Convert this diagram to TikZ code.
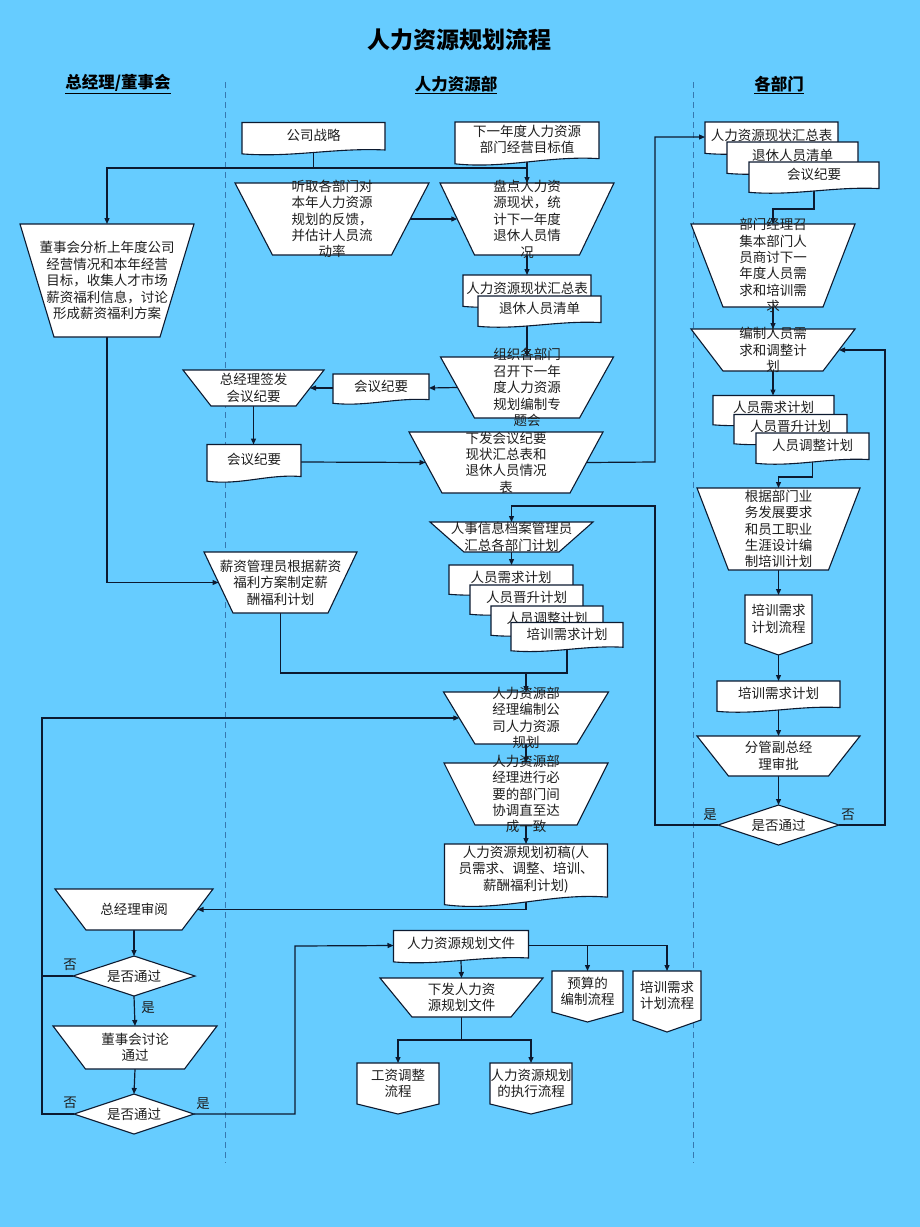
\documentclass[tikz,border=0pt]{standalone}
\usepackage{fontspec}
\setmainfont{Noto Sans CJK SC}
\usetikzlibrary{arrows.meta,calc}
\pgfdeclarelayer{back}\pgfdeclarelayer{bg}\pgfsetlayers{back,bg,main}
\definecolor{bgc}{RGB}{102,204,255}
\definecolor{lnc}{RGB}{12,26,48}
\definecolor{lanec}{RGB}{55,120,175}
\definecolor{txc}{RGB}{30,30,30}
\tikzset{
 bx/.style={draw=none,inner sep=0pt,outer sep=0pt,rectangle},
 shp/.style={draw=lnc,fill=white,line width=1.1pt,line join=miter},
 txt/.style={inner sep=0pt,align=center,font=\fontsize{13.5}{16.4}\selectfont,text=txc},
 arr/.style={draw=lnc,line width=1.2pt,-{Triangle[length=6pt,width=5pt]}},
 ln/.style={draw=lnc,line width=1.2pt},
 lane/.style={draw=lanec,dash pattern=on 6pt off 4pt,line width=1pt},
 hdr/.style={inner sep=0pt,font=\fontsize{16.5}{18}\selectfont\bfseries,text=black},
}
\newcommand\mkTrap[7]{%
  \node[bx,minimum width=#4,minimum height=#6] (#1) at (#2,#3) {};
  \filldraw[shp] (#1.north west) -- (#1.north east) -- ([xshift={-(#4-#5)/2}]#1.south east) -- ([xshift={(#4-#5)/2}]#1.south west) -- cycle;
  \coordinate (#1-l) at ([xshift={(#4-#5)/4}]#1.west);
  \coordinate (#1-r) at ([xshift={-(#4-#5)/4}]#1.east);
  \node[txt] (#1-t) at (#1.center) {#7};}
\newcommand\mkDoc[6]{%
  \node[bx,minimum width=#4,minimum height=#5] (#1) at (#2,#3) {};
  \filldraw[shp] (#1.north west) -- (#1.north east) -- ([yshift={0.084*#5}]#1.south east) .. controls ([xshift={-0.35*#4},yshift={0.164*#5}]#1.south east) and ([xshift={0.35*#4},yshift={-0.176*#5}]#1.south west) .. ([yshift={-0.046*#5}]#1.south west) -- cycle;
  \node[txt] (#1-t) at ([yshift={0.06*#5}]#1.center) {#6};}
\newcommand\mkOff[7]{%
  \node[bx,minimum width=#4,minimum height=#5] (#1) at (#2,#3) {};
  \filldraw[shp] (#1.north west) -- (#1.north east) -- ([yshift=#6]#1.south east) -- (#1.south) -- ([yshift=#6]#1.south west) -- cycle;
  \node[txt] (#1-t) at ([yshift={#6/2}]#1.center) {#7};}
\newcommand\mkDia[6]{%
  \node[bx,minimum width=#4,minimum height=#5] (#1) at (#2,#3) {};
  \filldraw[shp] (#1.north) -- (#1.east) -- (#1.south) -- (#1.west) -- cycle;
  \node[txt] (#1-t) at (#1.center) {#6};}
\begin{document}
\begin{tikzpicture}[x=1pt,y=-1pt]
\useasboundingbox (0,0) rectangle (920,1227);
\begin{pgfonlayer}{back}
\fill[bgc] (0,0) rectangle (920,1227);
\draw[lane] (225,82) -- (225,1163);
\draw[lane] (693,82) -- (693,1163);
\end{pgfonlayer}

% titles
\node[inner sep=0pt,font=\fontsize{23}{25}\selectfont\bfseries,text=black] (title) at (459,40) {人力资源规划流程};
\node[hdr] (h1) at (118,84) {\underline{总经理/董事会}};
\node[hdr] (h2) at (456,85) {\underline{人力资源部}};
\node[hdr] (h3) at (779,85) {\underline{各部门}};

% left/center lane top
\mkDoc{gszl}{313.5}{137.5}{143}{30}{公司战略}
\mkDoc{mb}{527}{142}{144}{40}{下一年度人力资源\\部门经营目标值}
\mkTrap{dsh}{107}{280.5}{174}{106}{113}{董事会分析上年度公司\\经营情况和本年经营\\目标，收集人才市场\\薪资福利信息，讨论\\形成薪资福利方案}
\mkTrap{tq}{332}{219}{194}{119}{72}{听取各部门对\\本年人力资源\\规划的反馈，\\并估计人员流\\动率}
\mkTrap{pd}{527}{219}{174}{105}{72}{盘点人力资\\源现状，统\\计下一年度\\退休人员情\\况}
\mkDoc{hz1}{527}{290}{128}{30}{人力资源现状汇总表}
\mkDoc{tx1}{539.5}{310.5}{123}{29}{退休人员清单}
\mkTrap{zz}{527}{387.5}{173}{105}{61}{组织各部门\\召开下一年\\度人力资源\\规划编制专\\题会}
\mkDoc{hy1}{381}{388}{96}{28}{会议纪要}
\mkTrap{zjl}{253.5}{388}{141}{85}{36}{总经理签发\\会议纪要}
\mkDoc{hy2}{254}{462}{94}{35}{会议纪要}
\mkTrap{xf}{506}{462.5}{194}{128}{61}{下发会议纪要\\现状汇总表和\\退休人员情况\\表}
\mkTrap{rs}{511.5}{537}{163}{95}{30}{人事信息档案管理员\\汇总各部门计划}
\mkDoc{xq2}{511}{579}{124}{28}{人员需求计划}
\mkDoc{js2}{526.5}{599}{113}{28}{人员晋升计划}
\mkDoc{tz2}{547}{620}{112}{28}{人员调整计划}
\mkDoc{px2}{567}{636}{112}{27}{培训需求计划}
\mkTrap{xz}{280.5}{582.5}{153}{95}{61}{薪资管理员根据薪资\\福利方案制定薪\\酬福利计划}
\mkTrap{jl1}{526}{718}{165}{102}{52}{人力资源部\\经理编制公\\司人力资源\\规划}
\mkTrap{jl2}{526}{794}{164}{102}{62}{人力资源部\\经理进行必\\要的部门间\\协调直至达\\成一致}
\mkDoc{cg}{526}{873}{163}{58}{人力资源规划初稿(人\\员需求、调整、培训、\\薪酬福利计划)}
\mkTrap{zsy}{134}{909.5}{158}{96}{41}{总经理审阅}
\mkDia{dm2}{134}{976}{122}{40}{是否通过}
\mkTrap{dst}{135}{1047.5}{164}{99}{43}{董事会讨论\\通过}
\mkDia{dm3}{134}{1114}{120}{40}{是否通过}
\mkDoc{wj}{461}{945.5}{135}{30}{人力资源规划文件}
\mkTrap{xfw}{461.5}{997.5}{163}{99}{39}{下发人力资\\源规划文件}
\mkOff{ys}{587.5}{996.5}{71}{51}{10}{预算的\\编制流程}
\mkOff{pxl2}{667}{1001.5}{68}{61}{12}{培训需求\\计划流程}
\mkOff{gz}{398}{1088.5}{82}{51}{10}{工资调整\\流程}
\mkOff{zx}{531}{1088.5}{82}{51}{10}{人力资源规划\\的执行流程}

% right lane
\mkDoc{hz2}{771.5}{137}{133}{30}{人力资源现状汇总表}
\mkDoc{tx2}{792.5}{157}{131}{30}{退休人员清单}
\mkDoc{hy3}{814}{176.5}{130}{29}{会议纪要}
\mkTrap{bm}{773}{265.5}{164}{100}{83}{部门经理召\\集本部门人\\员商讨下一\\年度人员需\\求和培训需\\求}
\mkTrap{bz}{773}{350}{164}{100}{42}{编制人员需\\求和调整计\\划}
\mkDoc{xq1}{773.5}{409.5}{121}{28}{人员需求计划}
\mkDoc{js1}{790.5}{428.5}{113}{28}{人员晋升计划}
\mkDoc{tz1}{812.5}{447.5}{113}{29}{人员调整计划}
\mkTrap{gj}{778.5}{529}{163}{100}{82}{根据部门业\\务发展要求\\和员工职业\\生涯设计编\\制培训计划}
\mkOff{pxl}{778.5}{625}{67}{60}{12}{培训需求\\计划流程}
\mkDoc{px3}{778.5}{695.5}{123}{29}{培训需求计划}
\mkTrap{fg}{778.5}{756}{163}{100}{40}{分管副总经\\理审批}
\mkDia{dm1}{778.5}{825}{121}{40}{是否通过}

% labels
\node[txt] (l1) at (710,815) {是};
\node[txt] (l2) at (848,815) {否};
\node[txt] (l3) at (70,965) {否};
\node[txt] (l4) at (148,1008) {是};
\node[txt] (l5) at (70,1103) {否};
\node[txt] (l6) at (203,1104) {是};

% junction coordinates
\coordinate (j1) at (527,168);
\coordinate (vx) at (655,462);
\coordinate (k1) at (773,209);
\coordinate (k2) at (778.5,477);
\coordinate (k3) at (655,506);
\coordinate (k4) at (885,350);
\coordinate (k5) at (567,673);
\coordinate (k6) at (42,718);
\coordinate (k7) at (295,946);
\coordinate (k8) at (461.5,1040);

\begin{pgfonlayer}{bg}
\draw[ln] (gszl.south) |- (j1);
\draw[arr] (j1) -| (dsh.north);
\draw[arr] (mb.south) -- (pd.north);
\draw[arr] (tq-r) -- (pd-l);
\draw[arr] (pd.south) -- (hz1.north);
\draw[arr] (zz.north |- tx1.south) -- (zz.north);
\draw[arr] (zz-l) -- (hy1.east);
\draw[arr] (hy1.west) -- (zjl-r);
\draw[arr] (zjl.south) -- (zjl.south |- hy2.north);
\draw[arr] (hy2.east) -- (xf-l);
\draw[arr] (xf-r) -- (vx) |- (hz2.west);
\draw[arr] (hy3.south) |- (k1) -- (bm.north);
\draw[arr] (bm.south) -- (bz.north);
\draw[arr] (bz.south) -- (bz.south |- xq1.north);
\draw[arr] (tz1.south) |- (k2) -- (gj.north);
\draw[arr] (gj.south) -- (pxl.north);
\draw[arr] (pxl.south) -- (px3.north);
\draw[arr] (px3.south) -- (fg.north);
\draw[arr] (fg.south) -- (dm1.north);
\draw[arr] (dm1.west) -| (k3) -| (rs.north);
\draw[arr] (dm1.east) -| (k4) -- (bz-r);
\draw[arr] (rs.south) -- (rs.south |- xq2.north);
\draw[ln] (xz.south) |- (k5) -- (px2.south);
\draw[arr] (jl1.north |- k5) -- (jl1.north);
\draw[arr] (dsh.south) |- (xz-l);
\draw[arr] (jl1.south) -- (jl2.north);
\draw[arr] (jl2.south) -- (cg.north);
\draw[arr] (cg.south) |- (zsy-r);
\draw[arr] (zsy.south) -- (dm2.north);
\draw[arr] (dm2.south) -- (dst.north);
\draw[ln] (dm2.west) -- (dm2.west -| k6);
\draw[arr] (dst.south) -- (dm3.north);
\draw[arr] (dm3.west) -| (k6) -- (jl1-l);
\draw[arr] (dm3.east) -| (k7) -- (wj.west);
\draw[arr] (wj.south) -- (xfw.north);
\draw[arr] (wj.east) -| (pxl2.north);
\draw[arr] (ys.north |- wj.east) -- (ys.north);
\draw[ln] (xfw.south) -- (k8);
\draw[arr] (k8) -| (gz.north);
\draw[arr] (k8) -| (zx.north);
\end{pgfonlayer}
\end{tikzpicture}
\end{document}
